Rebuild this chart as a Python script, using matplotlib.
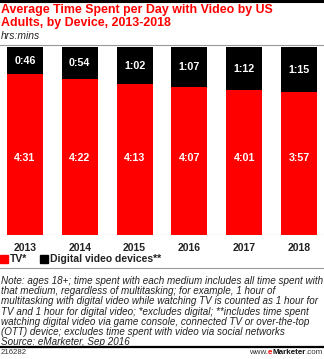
import numpy as np
import matplotlib.pyplot as plt
from matplotlib.lines import Line2D
from matplotlib.patches import Rectangle

W, H = 324, 359

years = ["2013", "2014", "2015", "2016", "2017", "2018"]
tv_labels = ["4:31", "4:22", "4:13", "4:07", "4:01", "3:57"]
digital_labels = ["0:46", "0:54", "1:02", "1:07", "1:12", "1:15"]
tv_minutes = [271, 262, 253, 247, 241, 237]
digital_minutes = [46, 54, 62, 67, 72, 75]

RED = "#ff0000"
BLACK = "#000000"

plt.rcParams['font.family'] = ['Liberation Sans', 'DejaVu Sans']


def fx(px):
    return px / W


def fy(py):
    return 1 - py / H


fig = plt.figure(figsize=(W / 100, H / 100), dpi=100)
fig.patch.set_facecolor("white")

# share of each day's total video time (bars are normalised to 100%)
tv = np.array(tv_minutes, dtype=float)
dig = np.array(digital_minutes, dtype=float)
total = tv + dig
tv_share = tv / total
dig_share = dig / total

ax = fig.add_axes([0, fy(235), 1, (235 - 47) / H])
x = np.arange(len(years))
ax.bar(x, tv_share, width=0.66, color=RED, edgecolor="none")
ax.bar(x, dig_share, bottom=tv_share, width=0.66, color=BLACK, edgecolor="none")
ax.set_xlim(-0.456, 5.456)
ax.set_ylim(0, 1)
for s in ax.spines.values():
    s.set_visible(False)
ax.set_xticks([])
ax.set_yticks([])
ax.axhline(0, color="#999999", lw=0.8)

for i in range(len(years)):
    ax.text(x[i], 0.41, tv_labels[i], ha="center", va="center",
            color="white", fontsize=7.7, fontweight="bold")
    ax.text(x[i], tv_share[i] + dig_share[i] / 2, digital_labels[i],
            ha="center", va="center", color="white", fontsize=7.7,
            fontweight="bold")
    ax.text(x[i], -0.04, years[i], ha="center", va="top",
            color="#222222", fontsize=7.5, fontweight="bold")

# header
fig.add_artist(Line2D([0, 1], [fy(1), fy(1)], color=BLACK, lw=2.2))
fig.text(fx(1), fy(10), "Average Time Spent per Day with Video by US",
         color=RED, fontsize=8.95, fontweight="bold", va="center")
fig.text(fx(1), fy(23), "Adults, by Device, 2013-2018",
         color=RED, fontsize=8.95, fontweight="bold", va="center")
fig.text(fx(1), fy(36), "hrs:mins", color="#222222", fontsize=7.5,
         style="italic", va="center")
fig.add_artist(Line2D([0, 1], [fy(45), fy(45)], color="#999999", lw=0.8))

# legend
fig.add_artist(Rectangle((fx(0), fy(263)), fx(8), 8 / H, color=RED))
fig.text(fx(10), fy(259), "TV*", color="#222222", fontsize=7.5,
         fontweight="bold", va="center")
fig.add_artist(Rectangle((fx(40), fy(263)), fx(8), 8 / H, color=BLACK))
fig.text(fx(50), fy(259), "Digital video devices**", color="#222222",
         fontsize=7.5, fontweight="bold", va="center")

fig.add_artist(Line2D([0, 1], [fy(268), fy(268)], color="#999999", lw=0.8))

note_lines = [
    "Note: ages 18+; time spent with each medium includes all time spent with",
    "that medium, regardless of multitasking; for example, 1 hour of",
    "multitasking with digital video while watching TV is counted as 1 hour for",
    "TV and 1 hour for digital video; *excludes digital; **includes time spent",
    "watching digital video via game console, connected TV or over-the-top",
    "(OTT) device; excludes time spent with video via social networks",
    "Source: eMarketer, Sep 2016",
]
for k, line in enumerate(note_lines):
    fig.text(fx(1), fy(281 + 10.2 * k), line, color="#222222", fontsize=7.1,
             style="italic", va="center")

# footer
fig.add_artist(Line2D([0, 1], [fy(346.5), fy(346.5)], color=BLACK, lw=1.6))
fig.text(fx(1), fy(353), "216282", color="#333333", fontsize=5.6, va="center")

# right-aligned pieces drawn from the right edge leftwards
parts = [(".com", "#333333", "normal"), ("Marketer", "#111111", "bold"),
         ("e", RED, "bold"), ("www.", "#333333", "normal")]
fig.canvas.draw()
renderer = fig.canvas.get_renderer()
xr = fx(323)
for text, col, wt in parts:
    tt = fig.text(xr, fy(353), text, color=col, fontsize=5.8, fontweight=wt,
                  va="center", ha="right")
    bb = tt.get_window_extent(renderer)
    xr -= bb.width / fig.bbox.width

fig.savefig("out.png", dpi=100)
